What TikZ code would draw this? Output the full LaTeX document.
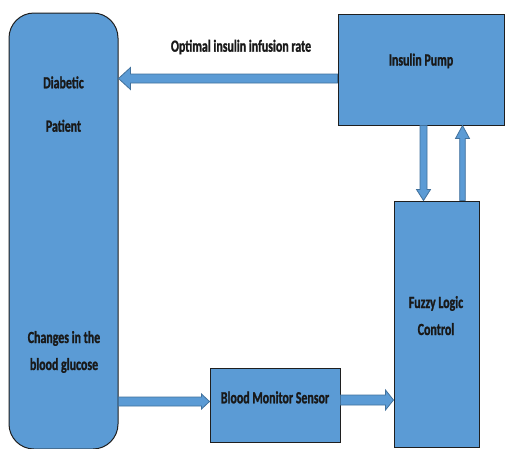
\documentclass[tikz,border=0pt]{standalone}
\usepackage{fontspec}
\newfontfamily\lblfont[FakeStretch=0.7,FakeBold=1.2]{Carlito Bold}
\usetikzlibrary{calc}
\definecolor{boxfill}{HTML}{5B9BD5}
\definecolor{arrowline}{HTML}{41719C}
\definecolor{boxline}{HTML}{1F1F1F}
\tikzset{
  blk/.style={draw=boxline, line width=1pt, fill=boxfill, inner sep=0pt},
  barrow/.style={draw=arrowline, line width=0.8pt, fill=boxfill},
  lbl/.style={font=\lblfont\fontsize{17}{19}\selectfont, inner sep=0pt, anchor=base, text=black!90}
}
% #1 tail, #2 tip, #3 half shaft, #4 half head, #5 head length
\newcommand\blockarrow[5]{%
  \coordinate (ba-t) at #1; \coordinate (ba-h) at #2;
  \coordinate (ba-b) at ($(ba-h)!#5!(ba-t)$);
  \draw[barrow] ($(ba-t)!#3!90:(ba-h)$) -- ($(ba-b)!#3!90:(ba-h)$) -- ($(ba-b)!#4!90:(ba-h)$) -- (ba-h)
    -- ($(ba-b)!#4!-90:(ba-h)$) -- ($(ba-b)!#3!-90:(ba-h)$) -- ($(ba-t)!#3!-90:(ba-h)$) -- cycle;}
\begin{document}
\begin{tikzpicture}[x=1pt,y=-1pt]
\useasboundingbox (0,0) rectangle (505,448);
\fill[white] (0,0) rectangle (505,448);
% boxes
\node[blk, rounded corners=25pt, minimum width=109pt, minimum height=436pt] (patient) at (63.5,231) {};
\node[blk, minimum width=166pt, minimum height=111pt] (pump) at (421,69.5) {};
\node[blk, minimum width=85pt, minimum height=246pt] (fuzzy) at (436.5,324) {};
\node[blk, minimum width=130pt, minimum height=74pt] (sensor) at (275,405) {};
% guide coordinates
\coordinate (ytop) at (0,78.5);
\coordinate (xdown) at (423.5,0);
\coordinate (xup) at (462.5,0);
\coordinate (ysens) at (0,401.5);
\coordinate (yfuz) at (0,400);
% arrows
\blockarrow{(pump.west |- ytop)}{(patient.east |- ytop)}{4.5pt}{11pt}{12pt}
\blockarrow{(xdown |- pump.south)}{(xdown |- fuzzy.north)}{3.5pt}{7pt}{11pt}
\blockarrow{(xup |- fuzzy.north)}{(xup |- pump.south)}{2.8pt}{7pt}{13pt}
\blockarrow{(patient.east |- ysens)}{(sensor.west |- ysens)}{4.5pt}{7.5pt}{8pt}
\blockarrow{(sensor.east |- yfuz)}{(fuzzy.west |- yfuz)}{5pt}{10pt}{8pt}
% labels
\node[lbl] (rate) at (241,51.7) {Optimal insulin infusion rate};
\node[lbl] (tpump) at (421,65.5) {Insulin Pump};
\node[lbl] (tdia) at (63.5,88.3) {Diabetic};
\node[lbl] (tpat) at (63.5,131.7) {Patient};
\node[lbl] (tchg) at (64,343) {Changes in the};
\node[lbl] (tblood) at (64,370) {blood glucose};
\node[lbl] (tsens) at (275,403.3) {Blood Monitor Sensor};
\node[lbl] (tfuz1) at (436,308) {Fuzzy Logic};
\node[lbl] (tfuz2) at (436,335) {Control};
\end{tikzpicture}
\end{document}
